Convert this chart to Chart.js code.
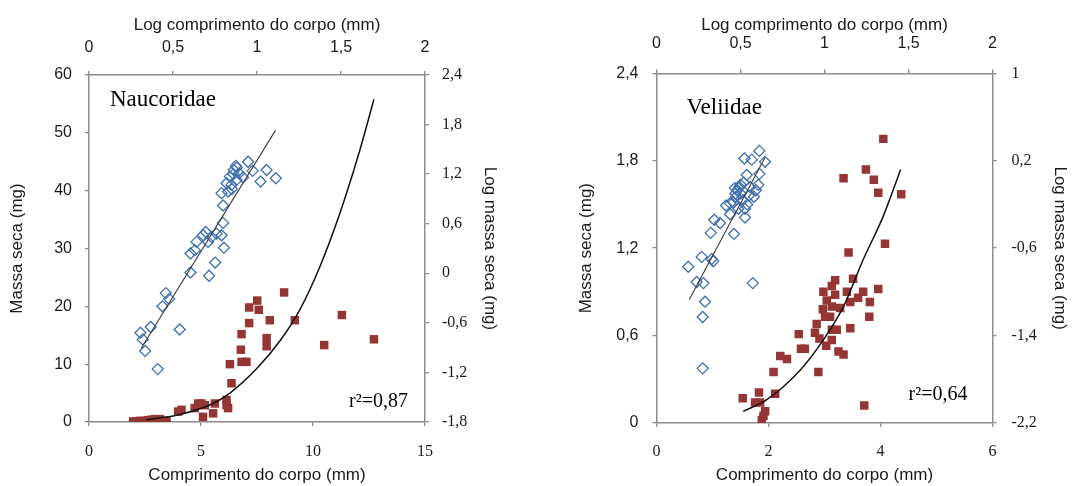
<!DOCTYPE html>
<html>
<head>
<meta charset="utf-8">
<script src="https://cdn.jsdelivr.net/npm/chart.js@4.4.0/dist/chart.umd.min.js"></script>
<style>
  body { margin: 0; background: #fff; }
  .panel { position: absolute; top: 0; width: 538px; height: 486px; }
</style>
</head>
<body>
<div class="panel" style="left:0"><canvas id="naucoridae"></canvas></div>
<div class="panel" style="left:538px"><canvas id="veliidae"></canvas></div>
<script>
// Naucoridae - log values (blue diamonds, top/right axes)
const naucLogLen = [0.306, 0.32, 0.334, 0.368, 0.409, 0.540, 0.437, 0.457, 0.477, 0.604, 0.604, 0.630, 0.640, 0.715, 0.751, 0.803,
  0.679, 0.695, 0.709, 0.729, 0.759, 0.789, 0.798, 0.798, 0.789, 0.828, 0.848, 0.819, 0.838, 0.862, 0.874, 0.894,
  0.917, 0.947, 0.974, 1.021, 1.057, 1.112, 0.878, 0.86, 0.85, 0.88];
const naucLogMass = [-0.72, -0.80, -0.94, -0.65, -1.16, -0.68, -0.40, -0.24, -0.31, 0.01, 0.24, 0.28, 0.38, -0.03, 0.13, 0.31,
  0.46, 0.50, 0.38, 0.44, 0.48, 0.46, 0.61, 0.82, 0.97, 0.99, 1.07, 1.09, 1.17, 1.25, 1.30, 1.21,
  1.16, 1.35, 1.24, 1.11, 1.25, 1.15, 1.13, 1.20, 1.02, 1.28];
// Naucoridae - raw values (red squares, bottom/left axes)
const naucLen = [1.97, 2.12, 2.27, 2.49, 2.64, 2.79, 2.94, 3.16, 3.46, 3.98, 4.13, 4.87, 5.02, 5.17, 4.72, 5.09, 5.54, 5.62,
  6.14, 6.21, 6.14, 6.36, 6.29, 6.81, 7.03, 6.78, 6.81, 7.15, 7.15, 7.51, 7.58, 7.93, 7.93, 8.07, 8.71, 9.19,
  10.5, 11.29, 12.72];
const naucMass = [0.1, 0.1, 0.2, 0.2, 0.3, 0.4, 0.5, 0.5, 0.2, 1.8, 2.1, 3.2, 3.2, 2.9, 2.4, 0.9, 1.5, 3.2,
  3.8, 2.4, 2.9, 6.7, 10.0, 10.4, 10.4, 12.5, 15.2, 17.1, 19.8, 21.0, 19.4, 14.5, 13.1, 17.6, 22.4, 17.6,
  13.3, 18.5, 14.3];
const naucFitLogX = [0.31, 1.11];
const naucFitLogY = [-0.91, 1.73];
const naucCurveX = [2.56, 4.05, 5.54, 6.29, 7.48, 8.52, 9.41, 10.31, 11.2, 12.09, 12.72];
const naucCurveY = [0.35, 1.3, 3.2, 5.0, 9.2, 14.0, 19.4, 26.9, 36.1, 47.0, 55.8];

// Veliidae
const veliLogLen = [0.189, 0.239, 0.269, 0.279, 0.289, 0.275, 0.275, 0.329, 0.338, 0.323, 0.344, 0.378, 0.414, 0.438,
  0.461, 0.457, 0.473, 0.481, 0.467, 0.493, 0.501, 0.513, 0.527, 0.527, 0.537, 0.523, 0.557, 0.567, 0.580,
  0.592, 0.606, 0.612, 0.612, 0.646, 0.573, 0.487, 0.438, 0.50, 0.52, 0.47, 0.55, 0.54];
const veliLogMass = [-0.77, -0.91, -0.68, -0.92, -1.09, -1.23, -1.70, -0.70, -0.72, -0.46, -0.34, -0.37, -0.21, -0.29,
  -0.47, -0.18, -0.13, -0.07, -0.05, -0.04, -0.10, -0.16, -0.24, -0.32, 0.07, 0.22, -0.04, 0.21, -0.13,
  -0.07, -0.02, 0.08, 0.29, 0.19, -0.92, -0.24, -0.19, -0.02, 0.0, -0.10, -0.12, -0.20];
const veliLen = [4.05, 3.74, 3.34, 3.88, 3.96, 4.37, 4.08, 3.43, 3.51, 3.19, 3.13, 2.98, 3.40, 3.69, 3.96, 3.19, 3.46,
  3.60, 3.81, 3.04, 3.13, 3.28, 2.97, 3.01, 3.10, 3.80, 2.86, 3.46, 3.13, 3.22, 2.83, 2.54, 2.91, 3.13, 3.03,
  2.58, 2.65, 3.25, 3.34, 2.21, 2.33, 2.09, 2.89, 1.54, 1.83, 2.12, 1.76, 1.85, 1.94, 1.91, 1.88, 3.71];
const veliMass = [1.95, 1.74, 1.68, 1.67, 1.58, 1.57, 1.23, 1.17, 0.99, 0.98, 0.94, 0.90, 0.90, 0.90, 0.92, 0.88, 0.83,
  0.86, 0.83, 0.84, 0.80, 0.79, 0.78, 0.73, 0.73, 0.73, 0.68, 0.65, 0.64, 0.64, 0.62, 0.61, 0.58, 0.57, 0.53,
  0.51, 0.51, 0.49, 0.47, 0.46, 0.44, 0.35, 0.35, 0.17, 0.21, 0.20, 0.14, 0.14, 0.08, 0.05, 0.02, 0.12];
const veliFitLogX = [0.195, 0.646];
const veliFitLogY = [-1.07, 0.23];
const veliCurveX = [1.55, 1.97, 2.56, 2.98, 3.34, 3.69, 4.05, 4.36];
const veliCurveY = [0.08, 0.16, 0.36, 0.57, 0.80, 1.12, 1.42, 1.74];

// tick labels
const naucLenTicks = [0, 5, 10, 15];
const naucMassTicks = [0, 10, 20, 30, 40, 50, 60];
const naucLogLenTicks = [0, 0.5, 1, 1.5, 2];
const naucLogMassTicks = [-1.8, -1.2, -0.6, 0, 0.6, 1.2, 1.8, 2.4];
const veliLenTicks = [0, 2, 4, 6];
const veliMassTicks = [0, 0.6, 1.2, 1.8, 2.4];
const veliLogLenTicks = [0, 0.5, 1, 1.5, 2];
const veliLogMassTicks = [-2.2, -1.4, -0.6, 0.2, 1];

const sans = "'Liberation Sans', Arial, sans-serif";
const serif = "'Liberation Serif', 'Times New Roman', serif";
const blue = "#3f6fae";
const red = "#963634";
const ink = "#1a1a1a";

const pts = (xs, ys) => xs.map((x, i) => ({ x: x, y: ys[i] }));
const fmt = v => String(Math.round(v * 10) / 10).replace(".", ",");

function axis(o) {
  return {
    type: "linear",
    position: o.position,
    min: o.ticks[0],
    max: o.ticks[o.ticks.length - 1],
    afterBuildTicks: s => { s.ticks = o.ticks.map(v => ({ value: v })); },
    afterFit: s => { if (s.isHorizontal()) s.height = o.size; else s.width = o.size; },
    grid: { drawOnChartArea: false, drawTicks: true, tickLength: 4, color: "#8c8c8c", lineWidth: 1.3 },
    border: { color: "#8c8c8c", width: 1.5 },
    ticks: { padding: o.pad, color: ink, font: { family: o.font, size: 16 }, callback: fmt, maxRotation: 0, autoSkip: false },
    title: {
      display: true, text: o.title, color: ink,
      font: { family: sans, size: 17 },
      padding: { top: o.tpad, bottom: o.tpad }
    }
  };
}

const panelText = {
  id: "panelText",
  afterDatasetsDraw(chart, args, opts) {
    const { ctx, chartArea: a } = chart;
    ctx.save();
    ctx.fillStyle = "#000";
    ctx.textBaseline = "middle";
    ctx.textAlign = "left";
    ctx.font = "23px " + serif;
    ctx.fillText(opts.name, a.left + opts.nameDx, a.top + opts.nameDy);
    ctx.textAlign = "right";
    ctx.font = "20px " + serif;
    ctx.fillText(opts.r2, a.right - opts.r2Dx, a.bottom - opts.r2Dy);
    ctx.restore();
  }
};

function makeChart(id, d) {
  new Chart(document.getElementById(id), {
    type: "scatter",
    data: {
      datasets: [
        {
          data: pts(d.logLen, d.logMass), xAxisID: "x2", yAxisID: "y2",
          pointStyle: "rectRot", pointRadius: 5.5, borderColor: blue, borderWidth: 1.3,
          backgroundColor: "rgba(255,255,255,0)", order: 3
        },
        {
          data: pts(d.fitX, d.fitY), xAxisID: "x2", yAxisID: "y2",
          showLine: true, pointRadius: 0, borderColor: "#3a3a3a", borderWidth: 1.1, order: 1
        },
        {
          data: pts(d.len, d.mass), xAxisID: "x", yAxisID: "y",
          pointStyle: "rect", pointRadius: 6, borderWidth: 0, backgroundColor: red, borderColor: red, order: 4
        },
        {
          data: pts(d.curveX, d.curveY), xAxisID: "x", yAxisID: "y",
          showLine: true, pointRadius: 0, borderColor: "#111", borderWidth: 1.5,
          cubicInterpolationMode: "monotone", order: 2
        }
      ]
    },
    options: {
      responsive: true,
      maintainAspectRatio: false,
      animation: false,
      layout: { padding: 0 },
      plugins: {
        legend: { display: false },
        tooltip: { enabled: false },
        panelText: d.text
      },
      scales: {
        x: axis(Object.assign({ position: "bottom", font: serif, title: "Comprimento do corpo (mm)", tpad: 0 }, d.bottom)),
        y: axis(Object.assign({ position: "left", font: sans, title: "Massa seca (mg)" }, d.left)),
        x2: axis(Object.assign({ position: "top", font: sans, title: "Log comprimento do corpo (mm)" }, d.top)),
        y2: axis(Object.assign({ position: "right", font: serif, title: "Log massa seca (mg)" }, d.right))
      }
    },
    plugins: [panelText]
  });
}

makeChart("naucoridae", {
  logLen: naucLogLen, logMass: naucLogMass, fitX: naucFitLogX, fitY: naucFitLogY,
  len: naucLen, mass: naucMass, curveX: naucCurveX, curveY: naucCurveY,
  bottom: { ticks: naucLenTicks, size: 64, pad: 16 },
  left: { ticks: naucMassTicks, size: 89, pad: 13, tpad: 7 },
  top: { ticks: naucLogLenTicks, size: 75, pad: 14, tpad: 15 },
  right: { ticks: naucLogMassTicks, size: 113, pad: 13, tpad: 38 },
  text: { name: "Naucoridae", nameDx: 21, nameDy: 25, r2: "r²=0,87", r2Dx: 17, r2Dy: 20 }
});

makeChart("veliidae", {
  logLen: veliLogLen, logMass: veliLogMass, fitX: veliFitLogX, fitY: veliFitLogY,
  len: veliLen, mass: veliMass, curveX: veliCurveX, curveY: veliCurveY,
  bottom: { ticks: veliLenTicks, size: 63, pad: 15 },
  left: { ticks: veliMassTicks, size: 118.5, pad: 14, tpad: 38 },
  top: { ticks: veliLogLenTicks, size: 73.3, pad: 16, tpad: 15 },
  right: { ticks: veliLogMassTicks, size: 83.5, pad: 15, tpad: 6 },
  text: { name: "Veliidae", nameDx: 30, nameDy: 35, r2: "r²=0,64", r2Dx: 25, r2Dy: 28 }
});
</script>
</body>
</html>
